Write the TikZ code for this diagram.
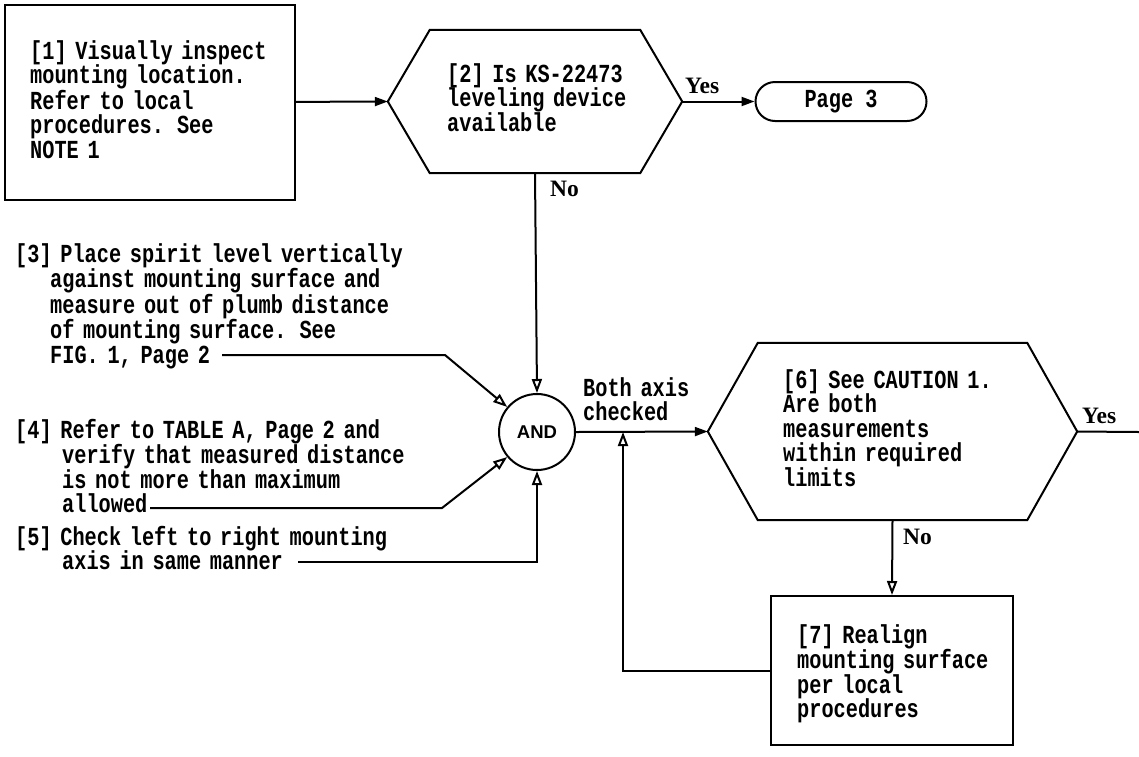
\documentclass[tikz,border=0pt]{standalone}
\usepackage{fontspec}
\newfontfamily\typefont[FakeStretch=0.78]{Liberation Mono}
\newfontfamily\labelfont{Liberation Serif}
\newfontfamily\gatefont{Liberation Sans}
\usepackage{tikz}
\usetikzlibrary{
  shapes.geometric, shapes.misc,
  arrows.meta, positioning
}
\tikzset{
  stepbox/.style={draw, line width=2pt, rectangle, inner sep=0pt},
  decisionbox/.style={rectangle, inner sep=0pt},
  hexline/.style={line width=2pt, line join=miter},
  termbox/.style={draw, line width=2pt, rounded rectangle,
    minimum width=171pt, minimum height=39pt, inner sep=0pt,
    font=\typefont\bfseries\fontsize{26}{24.5}\selectfont},
  gatenode/.style={draw, circle, line width=2pt, minimum size=76pt,
    inner sep=0pt, font=\gatefont\bfseries\fontsize{18.5}{20}\selectfont},
  steptext/.style={anchor=base west, inner sep=0pt, text width=#1,
    align=left, font=\typefont\bfseries\fontsize{26}{24.6}\selectfont},
  yesno/.style={anchor=base west, inner sep=0pt,
    font=\labelfont\bfseries\fontsize{23.5}{24}\selectfont},
  mainarrow/.style={-{Triangle[length=13pt, width=9pt]}, line width=2pt},
  inarrow/.style={-{Triangle[open, length=14pt, width=10pt]}, line width=2pt},
  plainline/.style={line width=2pt}
}

\begin{document}
\begin{tikzpicture}[x=1pt, y=-1pt]
  \useasboundingbox (0,0) rectangle (1139,756);

  % shapes
  \node[stepbox, minimum width=290pt, minimum height=195pt] (s1) at (150,102.5) {};
  \node[decisionbox, minimum width=294pt, minimum height=143pt] (q2) at (535,101.5) {};
  \node[termbox] (p3) at (841,101.5) {Page 3};
  \node[gatenode] (and) at (537,432) {AND};
  \node[decisionbox, minimum width=369pt, minimum height=177pt] (q6) at (892.5,431.5) {};
  \node[stepbox, minimum width=242pt, minimum height=149pt] (s7) at (892,670.5) {};

  % hexagon outlines
  \draw[hexline] (q2.west) -- ([xshift=42pt]q2.north west) -- ([xshift=-42pt]q2.north east)
    -- (q2.east) -- ([xshift=-42pt]q2.south east) -- ([xshift=42pt]q2.south west) -- cycle;
  \draw[hexline] (q6.west) -- ([xshift=50pt]q6.north west) -- ([xshift=-50pt]q6.north east)
    -- (q6.east) -- ([xshift=-50pt]q6.south east) -- ([xshift=50pt]q6.south west) -- cycle;

  % texts
  \node[steptext=280pt] (t1) at (30,59)
    {[1] Visually inspect\\mounting location.\\Refer to local\\procedures. See\\NOTE 1};
  \node[steptext=240pt] (t2) at (447,82)
    {[2] Is KS-22473\\leveling device\\available};
  \node[steptext=430pt] (t3) at (15,262)
    {[3] Place spirit level vertically\\\hspace*{35pt}against mounting surface and\\\hspace*{35pt}measure out of plumb distance\\\hspace*{35pt}of mounting surface. See\\\hspace*{35pt}FIG. 1, Page 2};
  \node[steptext=430pt] (t4) at (15,438)
    {[4] Refer to TABLE A, Page 2 and\\\hspace*{47pt}verify that measured distance\\\hspace*{47pt}is not more than maximum\\\hspace*{47pt}allowed};
  \node[steptext=430pt] (t5) at (15,545)
    {[5] Check left to right mounting\\\hspace*{47pt}axis in same manner};
  \node[steptext=130pt] (t8) at (583,396) {Both axis\\checked};
  \node[steptext=250pt] (t6) at (783,388)
    {[6] See CAUTION 1.\\Are both\\measurements\\within required\\limits};
  \node[steptext=220pt] (t7) at (797,643)
    {[7] Realign\\mounting surface\\per local\\procedures};

  % yes / no
  \node[yesno] (y2) at (685,93)   {Yes};
  \node[yesno] (n2) at (550,196)  {No};
  \node[yesno] (y6) at (1082,423) {Yes};
  \node[yesno] (n6) at (903,544)  {No};

  % free ends
  \coordinate (e3) at (222,355);
  \coordinate (k3) at (445,355);
  \coordinate (e4) at (150,508);
  \coordinate (k4) at (442,508);
  \coordinate (e5) at (298,562);
  \coordinate (out6) at (1139,432);
  \coordinate (jn) at (623,432);

  % connectors
  \draw[mainarrow] (s1) -- (q2.west);
  \draw[mainarrow] (q2.east) -- (p3.west);
  \draw[inarrow] (q2.south) -- (and.north);
  \draw[inarrow] (e3) -- (k3) -- (and.140);
  \draw[inarrow] (e4) -- (k4) -- (and.220);
  \draw[inarrow] (e5) -| (and.south);
  \draw[mainarrow] (and.east) -- (q6.west);
  \draw[plainline] (q6.east) -- (out6);
  \draw[inarrow] (q6.south) -- (s7.north);
  \draw[inarrow] (s7.west) -| (jn);

\end{tikzpicture}
\end{document}
